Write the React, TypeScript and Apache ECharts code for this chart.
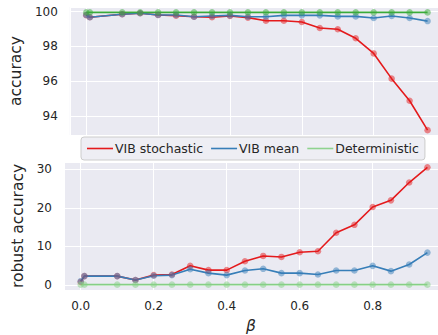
import React, { useEffect, useRef } from "react";
import * as echarts from "echarts";

const betas = [0, 0.01, 0.1, 0.15, 0.2, 0.25, 0.3, 0.35, 0.4, 0.45, 0.5, 0.55, 0.6, 0.65, 0.7, 0.75, 0.8, 0.85, 0.9, 0.95];

const accStochastic = [99.8, 99.68, 99.85, 99.91, 99.81, 99.77, 99.71, 99.68, 99.75, 99.66, 99.48, 99.48, 99.41, 99.06, 98.99, 98.47, 97.6, 96.15, 94.88, 93.19];
const accMean = [99.81, 99.68, 99.85, 99.91, 99.81, 99.81, 99.71, 99.75, 99.79, 99.71, 99.71, 99.79, 99.79, 99.79, 99.73, 99.73, 99.64, 99.75, 99.64, 99.46];
const accDet = [99.96, 99.96, 99.96, 99.96, 99.96, 99.96, 99.96, 99.96, 99.96, 99.96, 99.96, 99.96, 99.96, 99.96, 99.96, 99.96, 99.96, 99.96, 99.96, 99.96];

const robStochastic = [0.8, 2.31, 2.31, 1.29, 2.57, 2.74, 4.97, 3.86, 3.86, 6.17, 7.54, 7.28, 8.48, 8.74, 13.54, 15.6, 20.22, 21.94, 26.56, 30.5];
const robMean = [1.0, 2.31, 2.31, 1.29, 2.4, 2.57, 4.11, 3.08, 2.57, 3.77, 4.2, 3.08, 3.08, 2.74, 3.77, 3.77, 4.97, 3.6, 5.31, 8.4];
const robDet = [0.1, 0.1, 0.1, 0.1, 0.1, 0.1, 0.1, 0.1, 0.1, 0.1, 0.1, 0.1, 0.1, 0.1, 0.1, 0.1, 0.1, 0.1, 0.1, 0.1];

const seriesNames = ["VIB stochastic", "VIB mean", "Deterministic"];

const RED = "#e41a1c";
const BLUE = "#377eb8";
const GREEN_TOP = "#3aaa3a";
const GREEN_BOT = "#86cf86";
const GREEN_LEG = "#8fd38f";

const FONT = "DejaVu Sans";
const TXT = "#262626";

function pairs(ys: number[]) {
  return betas.map((b, i) => [b, ys[i]]);
}

function mkSeries(name: string, data: number[], color: string, idx: number) {
  return {
    name,
    type: "line",
    xAxisIndex: idx,
    yAxisIndex: idx,
    data: pairs(data),
    symbol: "circle",
    symbolSize: 6.5,
    showSymbol: true,
    itemStyle: { color, opacity: 0.5 },
    lineStyle: { color, width: 1.6, opacity: 1 },
    emphasis: { disabled: true },
  };
}

export default function App() {
  const ref = useRef<HTMLDivElement>(null);
  useEffect(() => {
    if (!ref.current) return;
    const chart = echarts.init(ref.current, undefined, { renderer: "svg" });
    const xCommon = {
      type: "value",
      min: -0.0458,
      max: 0.979,
      splitNumber: 5,
      axisLine: { show: false },
      axisTick: { show: false },
      splitLine: { show: true, lineStyle: { color: "#ffffff", width: 1 } },
    };
    const yCommon = {
      type: "value",
      axisLine: { show: false },
      axisTick: { show: false },
      splitLine: { show: true, lineStyle: { color: "#ffffff", width: 1 } },
      axisLabel: {
        color: TXT,
        fontFamily: FONT,
        fontSize: 12,
        margin: 12,
        showMinLabel: false,
        showMaxLabel: false,
      },
      nameLocation: "middle",
      nameRotate: 90,
      nameTextStyle: { color: TXT, fontFamily: FONT, fontSize: 15.5 },
    };
    chart.setOption({
      animation: false,
      grid: [
        { left: 64, right: 0, top: 7, height: 128, show: true, backgroundColor: "#eaeaf2", borderWidth: 0 },
        { left: 64, right: 0, top: 162, height: 129, show: true, backgroundColor: "#eaeaf2", borderWidth: 0 },
      ],
      xAxis: [
        { ...xCommon, gridIndex: 0, axisLabel: { show: false } },
        {
          ...xCommon,
          gridIndex: 1,
          axisLabel: {
            color: TXT,
            fontFamily: FONT,
            fontSize: 12,
            margin: 10,
            showMinLabel: false,
            showMaxLabel: false,
            formatter: (v: number) => v.toFixed(1),
          },
          name: "β",
          nameLocation: "middle",
          nameGap: 28,
          nameTextStyle: { color: TXT, fontFamily: FONT, fontSize: 15.5, fontStyle: "italic" },
        },
      ],
      yAxis: [
        { ...yCommon, gridIndex: 0, min: 92.91, max: 100.27, splitNumber: 4, name: "accuracy", nameGap: 38 },
        { ...yCommon, gridIndex: 1, min: -1.29, max: 31.88, splitNumber: 3, name: "robust accuracy", nameGap: 38 },
      ],
      legend: {
        left: 81,
        top: 137,
        orient: "horizontal",
        icon: "rect",
        itemWidth: 26,
        itemHeight: 1.6,
        itemGap: 8,
        padding: [5, 6, 5, 6],
        backgroundColor: "#eeeef4",
        borderColor: "#cccccc",
        borderWidth: 1,
        borderRadius: 3,
        textStyle: { color: TXT, fontFamily: FONT, fontSize: 12.5, padding: [0, 0, 0, -3] },
        itemStyle: { opacity: 1 },
        data: [
          { name: seriesNames[0], itemStyle: { color: RED, opacity: 1 } },
          { name: seriesNames[1], itemStyle: { color: BLUE, opacity: 1 } },
          { name: seriesNames[2], itemStyle: { color: GREEN_LEG, opacity: 1 } },
        ],
        selectedMode: false,
      },
      series: [
        mkSeries(seriesNames[0], accStochastic, RED, 0),
        mkSeries(seriesNames[1], accMean, BLUE, 0),
        mkSeries(seriesNames[2], accDet, GREEN_TOP, 0),
        mkSeries(seriesNames[0], robStochastic, RED, 1),
        mkSeries(seriesNames[1], robMean, BLUE, 1),
        mkSeries(seriesNames[2], robDet, GREEN_BOT, 1),
      ],
    });
    return () => chart.dispose();
  }, []);
  return <div ref={ref} style={{ width: 438, height: 335, position: "absolute", left: 0, top: 0 }} />;
}
